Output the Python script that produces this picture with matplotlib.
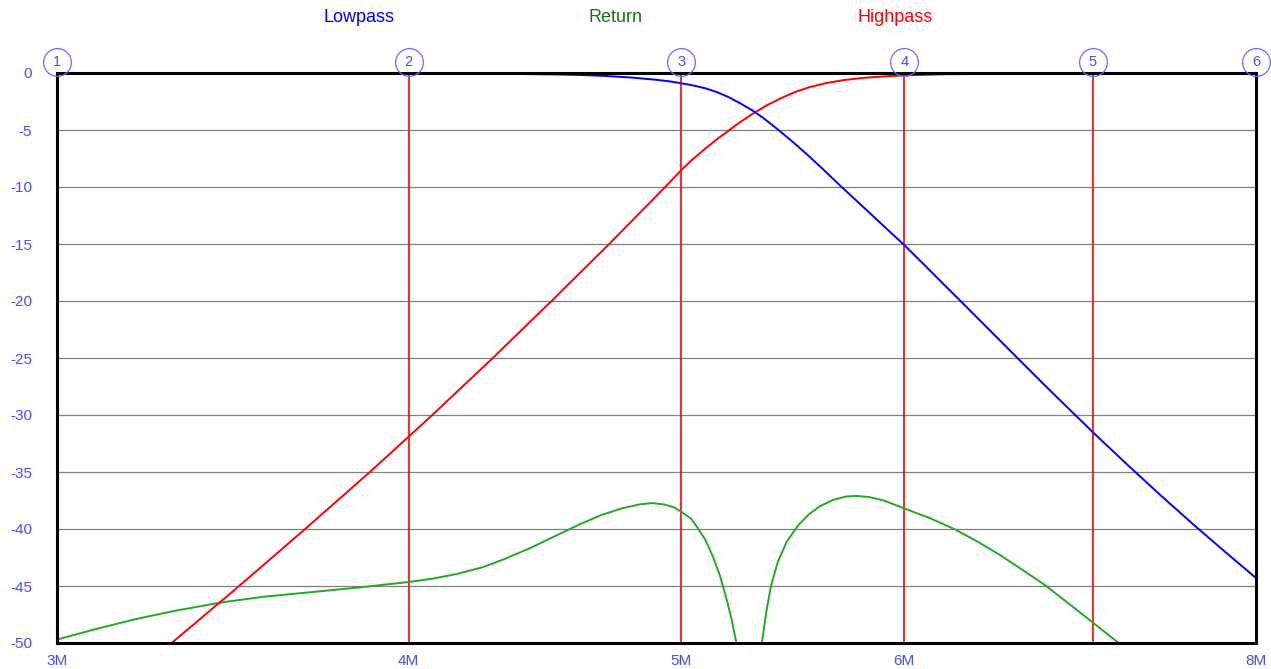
import matplotlib
matplotlib.use("Agg")
import matplotlib.pyplot as plt
import matplotlib.transforms as mtransforms

plt.rcParams['font.family'] = ['Liberation Sans', 'DejaVu Sans']

# frequencies in MHz, levels in dB (read from the sweep)
lp_freq = [3.0, 3.6, 4.0, 4.3, 4.5, 4.6, 4.7, 4.8, 4.9, 4.95, 5.0, 5.05, 5.1, 5.15,
           5.2, 5.25, 5.3, 5.35, 5.41, 5.48, 5.55, 5.62, 5.7, 5.78, 5.85, 5.92,
           6.0, 6.1, 6.2, 6.3, 6.45, 6.6, 6.75, 6.9, 7.0, 7.2, 7.4, 7.6, 7.8, 8.0]
lp_db = [0.0, -0.02, -0.04, -0.07, -0.12, -0.17, -0.26, -0.4, -0.6, -0.73, -0.9, -1.1, -1.35, -1.7,
         -2.15, -2.7, -3.3, -4.0, -4.95, -6.1, -7.3, -8.55, -10.0, -11.38, -12.58, -13.77,
         -15.1, -16.85, -18.6, -20.3, -22.83, -25.3, -27.7, -30.0, -31.5, -34.35, -37.05, -39.6, -42.0, -44.3]

hp_freq = [3.295, 3.482, 3.675, 3.875, 4.0, 4.078, 4.285, 4.496, 4.713, 4.934, 5.0, 5.05, 5.1,
           5.15, 5.2, 5.25, 5.31, 5.36, 5.42, 5.48, 5.55, 5.63, 5.71, 5.8, 5.9, 6.0,
           6.2, 6.6, 7.0, 8.0]
hp_db = [-50.0, -45.0, -40.0, -35.0, -31.9, -30.0, -25.0, -20.0, -15.0, -10.0, -8.5, -7.5, -6.6,
         -5.77, -5.0, -4.25, -3.45, -2.85, -2.25, -1.72, -1.25, -0.88, -0.62, -0.43, -0.3, -0.21,
         -0.11, -0.06, -0.04, 0.0]

rt_freq = [3.0, 3.1, 3.2, 3.3, 3.43, 3.55, 3.69, 3.85, 4.0, 4.08, 4.16, 4.25, 4.33,
           4.42, 4.52, 4.6, 4.68, 4.76, 4.83, 4.88, 4.93, 4.97, 5.0, 5.04, 5.07, 5.1,
           5.13, 5.16, 5.19, 5.21, 5.23, 5.25, 5.285, 5.32, 5.34, 5.36, 5.38, 5.41,
           5.45, 5.5, 5.55, 5.6, 5.66, 5.72, 5.77, 5.83, 5.9, 6.0, 6.12, 6.25, 6.37,
           6.49, 6.61, 6.73, 6.86, 7.0, 7.15, 7.4]
rt_db = [-49.7, -48.75, -47.9, -47.2, -46.45, -45.95, -45.55, -45.1, -44.65, -44.35, -43.95, -43.35, -42.6,
         -41.65, -40.5, -39.6, -38.8, -38.2, -37.85, -37.72, -37.85, -38.1, -38.5, -39.1, -40.0, -41.0,
         -42.4, -44.1, -46.3, -48.0, -50.0, -53.0, -62.0, -53.0, -50.0, -47.2, -45.0, -42.9,
         -41.1, -39.7, -38.7, -38.0, -37.45, -37.15, -37.1, -37.2, -37.5, -38.2, -39.0, -40.0, -41.1,
         -42.3, -43.6, -44.9, -46.5, -48.2, -50.0, -53.0]

marker_freq = [3, 4, 5, 6, 7, 8]
marker_labels = ['1', '2', '3', '4', '5', '6']
xtick_freq = [3, 4, 5, 6, 8]
xtick_labels = ['3M', '4M', '5M', '6M', '8M']
ytick_vals = [0, -5, -10, -15, -20, -25, -30, -35, -40, -45, -50]

fig = plt.figure(figsize=(12.71, 6.69), dpi=100)
ax = fig.add_axes([57 / 1271, 26 / 669, 1199 / 1271, 570 / 669])

ax.set_xscale('log')
ax.set_xlim(3, 8)
ax.set_ylim(-50, 0)

for v in ytick_vals[1:-1]:
    ax.axhline(v, color='#808080', lw=0.9, zorder=1)

# marker lines (only the inner ones)
for f in marker_freq[1:-1]:
    ax.axvline(f, color='#ff0000', lw=1.2, zorder=2)

ax.plot(rt_freq, rt_db, color='#22aa22', lw=1.4, zorder=3)
ax.plot(hp_freq, hp_db, color='#ff0000', lw=1.4, zorder=3)
ax.plot(lp_freq, lp_db, color='#0000ff', lw=1.4, zorder=3)

# numbered marker circles above the plot
trans = mtransforms.blended_transform_factory(ax.transData, ax.transAxes)
for f, lab in zip(marker_freq, marker_labels):
    ax.plot([f], [1.019], transform=trans, marker='o', ms=20, mfc='none',
            mec='#6a6aff', mew=0.9, clip_on=False, zorder=6)
    ax.text(f, 1.019, lab, transform=trans, ha='center', va='center',
            fontsize=10.5, color='#4a4aff', clip_on=False, zorder=7)

ax.set_xticks(xtick_freq)
ax.set_xticklabels(xtick_labels)
ax.xaxis.set_minor_locator(matplotlib.ticker.NullLocator())
ax.set_yticks(ytick_vals)
ax.set_yticklabels([str(v) for v in ytick_vals])
ax.tick_params(axis='both', length=0, labelsize=11, labelcolor='#4a4aff')
ax.tick_params(axis='x', pad=8)
ax.tick_params(axis='y', pad=18)

for sp in ax.spines.values():
    sp.set_linewidth(2.2)
    sp.set_color('black')
    sp.set_zorder(5)

fig.text(359 / 1271, 1 - 17 / 669, 'Lowpass', color='#0000ff', fontsize=13, ha='center', va='center')
fig.text(616 / 1271, 1 - 17 / 669, 'Return', color='#117711', fontsize=13, ha='center', va='center')
fig.text(895 / 1271, 1 - 17 / 669, 'Highpass', color='#ff0000', fontsize=13, ha='center', va='center')

fig.savefig('out.png', dpi=100)
